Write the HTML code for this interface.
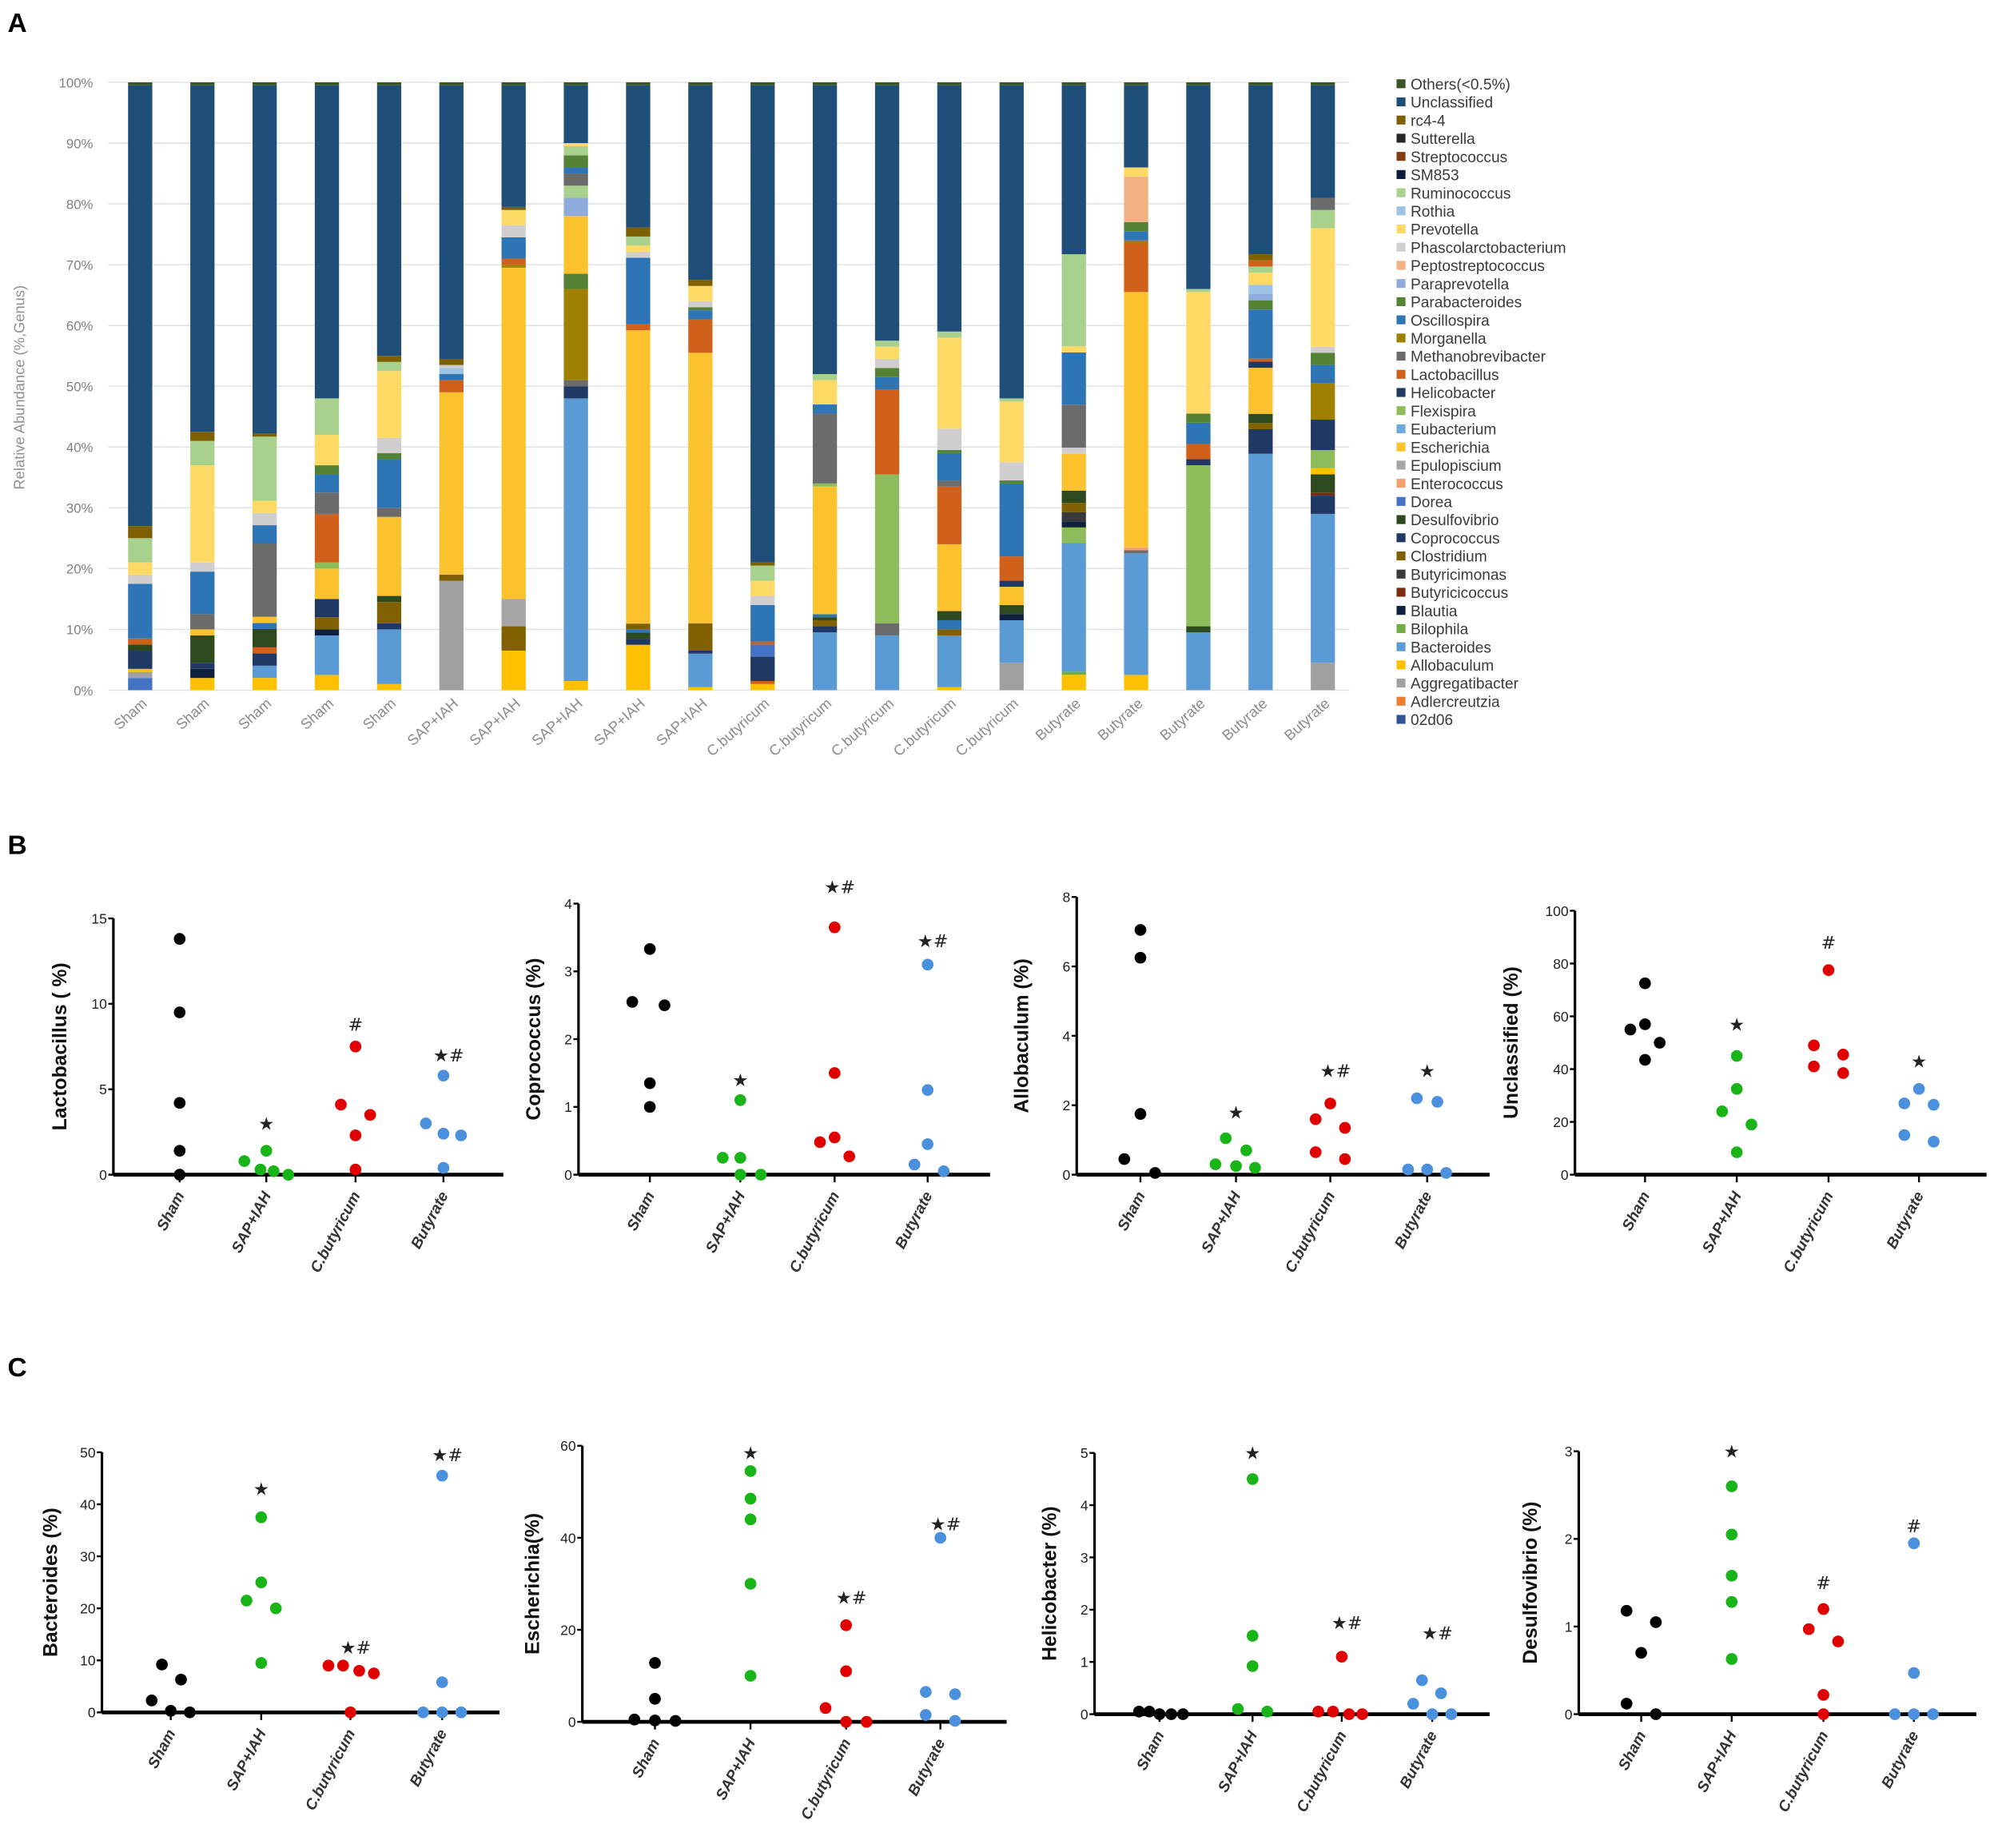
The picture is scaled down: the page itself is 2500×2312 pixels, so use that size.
<!DOCTYPE html>
<html><head><meta charset="utf-8"><style>
html,body{margin:0;padding:0;background:#fff;}
svg{display:block;font-family:"Liberation Sans",Arial,sans-serif;}
</style></head><body>
<svg id="fig" width="2500" height="2312" viewBox="0 0 1568 1450" preserveAspectRatio="none" xmlns="http://www.w3.org/2000/svg">
<text x="6" y="25" font-size="21" font-weight="bold">A</text>
<text x="6" y="670" font-size="21" font-weight="bold">B</text>
<text x="6" y="1080" font-size="21" font-weight="bold">C</text>
</svg>
<script>
// ---------- Panel A data ----------
const barLabels = ["Sham","Sham","Sham","Sham","Sham","SAP+IAH","SAP+IAH","SAP+IAH","SAP+IAH","SAP+IAH","C.butyricum","C.butyricum","C.butyricum","C.butyricum","C.butyricum","Butyrate","Butyrate","Butyrate","Butyrate","Butyrate"];
const taxa = ["Others(<0.5%)","Unclassified","rc4-4","Sutterella","Streptococcus","SM853","Ruminococcus","Rothia","Prevotella","Phascolarctobacterium","Peptostreptococcus","Paraprevotella","Parabacteroides","Oscillospira","Morganella","Methanobrevibacter","Lactobacillus","Helicobacter","Flexispira","Eubacterium","Escherichia","Epulopiscium","Enterococcus","Dorea","Desulfovibrio","Coprococcus","Clostridium","Butyricimonas","Butyricicoccus","Blautia","Bilophila","Bacteroides","Allobaculum","Aggregatibacter","Adlercreutzia","02d06"];
const taxaColors = ["#375623","#1f4e79","#7f6000","#262626","#843c0c","#0d1b3e","#a9d18e","#9dc3e6","#ffd966","#d0cece","#f4b183","#8faadc","#548235","#2e75b6","#a08000","#6b6b6b","#d0601a","#203864","#8fbc5a","#6fa8dc","#fcc22e","#a5a5a5","#f4a070","#4472c4","#2d4a1e","#1f3864","#806000","#3a3a3a","#7b2c0a","#10213f","#70ad47","#5b9bd5","#ffc000","#a0a0a0","#ed7d31","#2f5597"];
const bar00 = [["Dorea",2],["Aggregatibacter",1],["Allobaculum",0.5],["Coprococcus",3],["Desulfovibrio",1],["Lactobacillus",1],["Oscillospira",9],["Phascolarctobacterium",1.5],["Prevotella",2],["Ruminococcus",4],["rc4-4",2],["Unclassified",72.5],["Others(<0.5%)",0.5]];
const bar01 = [["Allobaculum",2],["Blautia",1.5],["Coprococcus",1],["Desulfovibrio",4.5],["Escherichia",1],["Methanobrevibacter",2.5],["Oscillospira",7],["Phascolarctobacterium",1.5],["Prevotella",16],["Ruminococcus",4],["rc4-4",1.5],["Unclassified",57],["Others(<0.5%)",0.5]];
const bar02 = [["Allobaculum",2],["Bacteroides",2],["Coprococcus",2],["Lactobacillus",1],["Desulfovibrio",3],["Oscillospira",1],["Escherichia",1],["Methanobrevibacter",12],["Oscillospira",3],["Phascolarctobacterium",2],["Prevotella",2],["Ruminococcus",10.5],["rc4-4",0.5],["Unclassified",57],["Others(<0.5%)",0.5]];
const bar03 = [["Allobaculum",2.5],["Bacteroides",6.5],["Blautia",1],["Clostridium",2],["Coprococcus",3],["Escherichia",5],["Flexispira",1],["Lactobacillus",8],["Methanobrevibacter",3.5],["Oscillospira",3],["Parabacteroides",1.5],["Prevotella",5],["Ruminococcus",6],["Unclassified",51.5],["Others(<0.5%)",0.5]];
const bar04 = [["Allobaculum",1],["Bacteroides",9],["Coprococcus",1],["Clostridium",3.5],["Desulfovibrio",1],["Escherichia",13],["Methanobrevibacter",1.5],["Oscillospira",8],["Parabacteroides",1],["Phascolarctobacterium",2.5],["Prevotella",11],["Ruminococcus",1.5],["rc4-4",1],["Unclassified",44.5],["Others(<0.5%)",0.5]];
const bar05 = [["Aggregatibacter",18],["Clostridium",1],["Escherichia",30],["Lactobacillus",2],["Oscillospira",1],["Rothia",1],["Phascolarctobacterium",0.5],["rc4-4",1],["Unclassified",45],["Others(<0.5%)",0.5]];
const bar06 = [["Allobaculum",6.5],["Clostridium",4],["Epulopiscium",4.5],["Escherichia",54.5],["Morganella",0.5],["Lactobacillus",1],["Oscillospira",3.5],["Phascolarctobacterium",2],["Prevotella",2.5],["rc4-4",0.5],["Unclassified",20],["Others(<0.5%)",0.5]];
const bar07 = [["Allobaculum",1.5],["Bacteroides",46.5],["Helicobacter",2],["Methanobrevibacter",1],["Morganella",15],["Parabacteroides",2.5],["Escherichia",9.5],["Paraprevotella",3],["Ruminococcus",2],["Methanobrevibacter",2],["Oscillospira",1],["Parabacteroides",2],["Ruminococcus",1.5],["Prevotella",0.5],["Unclassified",9.5],["Others(<0.5%)",0.5]];
const bar08 = [["Allobaculum",7.5],["Coprococcus",1],["Desulfovibrio",1],["Oscillospira",0.5],["Clostridium",1],["Escherichia",48.5],["Lactobacillus",1],["Oscillospira",11],["Phascolarctobacterium",1],["Prevotella",1],["Ruminococcus",1.5],["rc4-4",1.5],["Unclassified",23.5],["Others(<0.5%)",0.5]];
const bar09 = [["Allobaculum",0.5],["Bacteroides",5.5],["Coprococcus",0.5],["Clostridium",4.5],["Escherichia",44.5],["Lactobacillus",5.5],["Oscillospira",1.5],["Parabacteroides",0.5],["Phascolarctobacterium",1],["Prevotella",2.5],["rc4-4",1],["Unclassified",32],["Others(<0.5%)",0.5]];
const bar10 = [["Allobaculum",1],["Lactobacillus",0.5],["Coprococcus",4],["Dorea",2],["Lactobacillus",0.5],["Oscillospira",6],["Phascolarctobacterium",1.5],["Prevotella",2.5],["Ruminococcus",2.5],["rc4-4",0.5],["Unclassified",78.5],["Others(<0.5%)",0.5]];
const bar11 = [["Bacteroides",9.5],["Coprococcus",1],["Clostridium",1],["Desulfovibrio",0.5],["Oscillospira",0.5],["Escherichia",21],["Flexispira",0.5],["Methanobrevibacter",11.5],["Oscillospira",1.5],["Prevotella",4],["Ruminococcus",1],["Unclassified",47.5],["Others(<0.5%)",0.5]];
const bar12 = [["Bacteroides",9],["Methanobrevibacter",2],["Flexispira",24.5],["Lactobacillus",14],["Oscillospira",2],["Parabacteroides",1.5],["Phascolarctobacterium",1.5],["Prevotella",2],["Ruminococcus",1],["Unclassified",42],["Others(<0.5%)",0.5]];
const bar13 = [["Allobaculum",0.5],["Bacteroides",8.5],["Clostridium",1],["Oscillospira",1.5],["Desulfovibrio",1.5],["Escherichia",11],["Lactobacillus",9.5],["Methanobrevibacter",1],["Oscillospira",4.5],["Parabacteroides",0.5],["Phascolarctobacterium",3.5],["Prevotella",15],["Ruminococcus",1],["Unclassified",40.5],["Others(<0.5%)",0.5]];
const bar14 = [["Aggregatibacter",4.5],["Bacteroides",7],["Blautia",1],["Desulfovibrio",1.5],["Escherichia",3],["Coprococcus",1],["Lactobacillus",4],["Oscillospira",12],["Parabacteroides",0.5],["Phascolarctobacterium",3],["Prevotella",10],["Ruminococcus",0.5],["Unclassified",51.5],["Others(<0.5%)",0.5]];
const bar15 = [["Allobaculum",2.5],["Bilophila",0.5],["Bacteroides",21],["Flexispira",2.5],["Blautia",1],["Butyricimonas",1.5],["Clostridium",1.5],["Desulfovibrio",2],["Escherichia",6],["Phascolarctobacterium",1],["Methanobrevibacter",7],["Oscillospira",8.5],["Prevotella",1],["Ruminococcus",15],["Unclassified",27.5],["Others(<0.5%)",0.5]];
const bar16 = [["Allobaculum",2.5],["Bacteroides",20],["Methanobrevibacter",0.5],["Enterococcus",0.5],["Escherichia",42],["Lactobacillus",8],["Morganella",0.5],["Oscillospira",1.5],["Parabacteroides",1.5],["Peptostreptococcus",7.5],["Prevotella",1.5],["Unclassified",13.5],["Others(<0.5%)",0.5]];
const bar17 = [["Bacteroides",9.5],["Desulfovibrio",1],["Flexispira",26.5],["Helicobacter",1],["Lactobacillus",2.5],["Oscillospira",3.5],["Parabacteroides",1.5],["Prevotella",20],["Ruminococcus",0.5],["Unclassified",33.5],["Others(<0.5%)",0.5]];
const bar18 = [["Bacteroides",38.5],["Coprococcus",4],["Clostridium",1],["Desulfovibrio",1.5],["Escherichia",7.5],["Helicobacter",1],["Lactobacillus",0.5],["Oscillospira",8],["Parabacteroides",1.5],["Paraprevotella",1],["Rothia",1.5],["Prevotella",2],["Ruminococcus",1],["Lactobacillus",1],["rc4-4",1],["Unclassified",27.5],["Others(<0.5%)",0.5]];
const bar19 = [["Aggregatibacter",4.5],["Bacteroides",24.5],["Coprococcus",3],["Butyricicoccus",0.5],["Desulfovibrio",3],["Allobaculum",1],["Flexispira",3],["Helicobacter",5],["Morganella",6],["Oscillospira",3],["Parabacteroides",2],["Phascolarctobacterium",1],["Prevotella",19.5],["Ruminococcus",3],["Methanobrevibacter",2],["Unclassified",18.5],["Others(<0.5%)",0.5]];
const barStacks = [bar00,bar01,bar02,bar03,bar04,bar05,bar06,bar07,bar08,bar09,bar10,bar11,bar12,bar13,bar14,bar15,bar16,bar17,bar18,bar19];
const pctTicks = [0,10,20,30,40,50,60,70,80,90,100];

// ---------- Panels B & C data ----------
const groups = ["Sham","SAP+IAH","C.butyricum","Butyrate"];
const groupColors = ["#000000","#18b418","#e00000","#4a90dc"];
const lacVals = [[13.8,9.5,4.2,1.4,0],[0.8,1.4,0.3,0.2,0],[4.1,7.5,3.5,2.3,0.3],[3.0,5.8,2.4,2.3,0.4]];
const lacJit = [[0,0,0,0,0],[-1.5,0,-0.4,0.5,1.5],[-1,0,1,0,0],[-1.2,0,0,1.2,0]];
const lacMarks = [["",0],["★",3.0],["#",8.8],["★#",7.0]];
const lacTicks = [0,5,10,15];
const copVals = [[2.55,3.33,2.5,1.35,1.0],[0.25,1.1,0.25,0,0],[0.48,3.65,1.5,0.55,0.27],[0.15,3.1,1.25,0.45,0.05]];
const copJit = [[-1.2,0,1,0,0],[-1.2,0,0,0,1.4],[-1,0,0,0,1],[-0.9,0,0,0,1.1]];
const copMarks = [["",0],["★",1.4],["★#",4.25],["★#",3.45]];
const copTicks = [0,1,2,3,4];
const allVals = [[0.45,7.05,6.25,1.75,0.05],[0.3,1.05,0.25,0.7,0.2],[1.6,0.65,2.05,1.35,0.45],[0.15,2.2,0.15,2.1,0.05]];
const allJit = [[-1.1,0,0,0,1],[-1.4,-0.7,0,0.7,1.3],[-1,-1,0,1,1],[-1.3,-0.7,0,0.7,1.3]];
const allMarks = [["",0],["★",1.8],["★#",3.0],["★",3.0]];
const allTicks = [0,2,4,6,8];
const uncVals = [[55,72.5,57,43.5,50],[24,45,32.5,8.5,19],[49,41,77.5,45.5,38.5],[27,15,32.5,26.5,12.5]];
const uncJit = [[-1,0,0,0,1],[-1,0,0,0,1],[-1,-1,0,1,1],[-1,-1,0,1,1]];
const uncMarks = [["",0],["★",57],["#",88],["★",43]];
const uncTicks = [0,20,40,60,80,100];
const bacVals = [[2.3,9.2,0.3,6.3,0],[21.5,37.5,25,9.5,20],[9,9,0,8,7.5],[0,45.5,5.8,0,0]];
const bacJit = [[-1.3,-0.6,0,0.7,1.3],[-1,0,0,0,1],[-1.5,-0.5,0,0.6,1.6],[-1.3,0,0,0,1.3]];
const bacMarks = [["",0],["★",43],["★#",12.5],["★#",49.5]];
const bacTicks = [0,10,20,30,40,50];
const escVals = [[0.5,12.8,5,0.3,0.2],[54.5,48.5,44,30,10],[3,21,11,0,0],[6.5,1.5,40,6,0.2]];
const escJit = [[-1.4,0,0,0,1.4],[0,0,0,0,0],[-1.4,0,0,0,1.4],[-1,-1,0,1,1]];
const escMarks = [["",0],["★",58.5],["★#",27],["★#",43]];
const escTicks = [0,20,40,60];
const helVals = [[0.05,0.05,0,0,0],[0.1,4.5,1.5,0.92,0.05],[0.05,0.05,1.1,0,0],[0.2,0.65,0,0.4,0]];
const helJit = [[-1.4,-0.7,0,0.8,1.6],[-1,0,0,0,1],[-1.6,-0.6,0,0.5,1.4],[-1.3,-0.7,0,0.6,1.3]];
const helMarks = [["",0],["★",5.0],["★#",1.75],["★#",1.55]];
const helTicks = [0,1,2,3,4,5];
const desVals = [[0.12,1.18,0.7,1.05,0],[2.6,2.05,1.58,1.28,0.63],[0.97,1.2,0.22,0,0.83],[0,1.95,0.47,0,0]];
const desJit = [[-1,-1,0,1,1],[0,0,0,0,0],[-1,0,0,0,1],[-1.3,0,0,0,1.3]];
const desMarks = [["",0],["★",3.0],["#",1.5],["#",2.15]];
const desTicks = [0,1,2,3];

const NS = "http://www.w3.org/2000/svg";
const svg = document.getElementById("fig");
function mk(tag, attrs, parent){
  const e = document.createElementNS(NS, tag);
  for (const k in attrs) e.setAttribute(k, attrs[k]);
  (parent || svg).appendChild(e);
  return e;
}

// ---------- Panel A ----------
(function(){
  const g = mk("g", {});
  
  
  const x0 = 85, x1 = 1059, yTop = 64.6, yBot = 541.5;
  const yScale = v => yBot - (v/100)*(yBot-yTop);
  const xCenter = i => 110 + i*48.85;
  const bw = 19;
  pctTicks.forEach(t => {
    const ln = mk("line", {x1:x0, x2:x1, y1:yScale(t), y2:yScale(t), stroke:"#e2e2e2", "stroke-width":1}, g);
    
    
    const tx = mk("text", {x:73, y:yScale(t)+4, "text-anchor":"end", "font-size":10.5, fill:"#808080"}, g);
    tx.textContent = t + "%";
    
    
  });
  const yt = mk("text", {x:0, y:0, transform:"translate(19,304) rotate(-90)", "text-anchor":"middle", "font-size":11.5, fill:"#909090"}, g);
  yt.textContent = "Relative Abundance (%,Genus)";
  
  
  barStacks.forEach((stack, i) => {
    const total = stack.reduce((s, p) => s + p[1], 0);
    let cum = 0;
    const bg = mk("g", {}, g);
    
    
    stack.forEach(([name, v]) => {
      const yA = yScale(cum/total*100), yB = yScale((cum+v)/total*100);
      const r = mk("rect", {x:xCenter(i)-bw/2, y:yB, width:bw, height:Math.max(0, yA-yB), fill:taxaColors[taxa.indexOf(name)]}, bg);
      
      
      cum += v;
    });
    const lx = xCenter(i)+6, ly = 553;
    const lt = mk("text", {x:lx, y:ly, transform:`rotate(-42 ${lx} ${ly})`, "text-anchor":"end", "font-size":11.5, fill:"#8a8a8a"}, g);
    lt.textContent = barLabels[i];
    
    
  });
  const lg = mk("g", {}, g);
  
  
  taxa.forEach((t, k) => {
    const y = 65.7 + k*14.25;
    const sq = mk("rect", {x:1096, y:y-3.5, width:7, height:7, fill:taxaColors[k]}, lg);
    
    
    const tx = mk("text", {x:1107, y:y+4.5, "font-size":12, fill:"#3a3a3a"}, lg);
    tx.textContent = t;
    
    
  });
})();

// ---------- Dot plots ----------
function dotPlot(cfg, vals, jit, marks, ticks){
  const g = mk("g", {});
  
  
  const max = ticks[ticks.length-1];
  const ys = v => cfg.y0 - (v/max)*(cfg.y0-cfg.yTop);
  const ax = mk("line", {x1:cfg.ax, x2:cfg.ax, y1:cfg.yTop, y2:cfg.y0, stroke:"#000", "stroke-width":2}, g);
  
  
  const xa = mk("line", {x1:cfg.ax, x2:cfg.xEnd, y1:cfg.y0, y2:cfg.y0, stroke:"#000", "stroke-width":3}, g);
  
  
  ticks.forEach(t => {
    const tk = mk("line", {x1:cfg.ax-4, x2:cfg.ax, y1:ys(t), y2:ys(t), stroke:"#000", "stroke-width":1.5}, g);
    
    
    const tx = mk("text", {x:cfg.ax-5, y:ys(t)+4, "text-anchor":"end", "font-size":11, fill:"#222"}, g);
    tx.textContent = t;
    
    
  });
  const yt = mk("text", {x:0, y:0, transform:`translate(${cfg.lx},${(cfg.yTop+cfg.y0)/2}) rotate(-90)`, "text-anchor":"middle", "font-size":15.5, "font-weight":"bold", fill:"#111"}, g);
  yt.textContent = cfg.title;
  
  
  groups.forEach((gn, gi) => {
    const cx = cfg.centers[gi];
    const tk = mk("line", {x1:cx, x2:cx, y1:cfg.y0, y2:cfg.y0+6, stroke:"#000", "stroke-width":1.5}, g);
    
    
    const lx = cx+4, ly = cfg.y0+16;
    const lt = mk("text", {x:lx, y:ly, transform:`rotate(-62 ${lx} ${ly})`, "text-anchor":"end", "font-size":12, "font-weight":"bold", "font-style":"italic", fill:"#333"}, g);
    lt.textContent = gn;
    
    
    vals[gi].forEach((v, k) => {
      const c = mk("circle", {cx:cx + jit[gi][k]*11.5, cy:ys(v), r:4.6, fill:groupColors[gi]}, g);
      
      
    });
    const [m, mv] = marks[gi];
    if (m) {
      const mt = mk("text", {x:cx+(m.length>1?4:0), y:ys(mv)+5, "text-anchor":"middle", "font-size":14, fill:"#222", "font-family":"DejaVu Sans, sans-serif"}, g);
      mt.textContent = m;
      
      
    }
  });
}
dotPlot({name:"lactobacillus-plot", title:"Lactobacillus ( %)", ax:89, xEnd:395, yTop:720.6, y0:921.7, lx:52, centers:[141,209,279,348]}, lacVals, lacJit, lacMarks, lacTicks);
dotPlot({name:"coprococcus-plot", title:"Coprococcus (%)", ax:454, xEnd:777, yTop:709, y0:921.7, lx:424, centers:[510,581,655,728]}, copVals, copJit, copMarks, copTicks);
dotPlot({name:"allobaculum-plot", title:"Allobaculum (%)", ax:845, xEnd:1169, yTop:703.8, y0:921.7, lx:807, centers:[895,970,1044,1120]}, allVals, allJit, allMarks, allTicks);
dotPlot({name:"unclassified-plot", title:"Unclassified (%)", ax:1236, xEnd:1559, yTop:714.6, y0:921.7, lx:1191, centers:[1291,1363,1435,1506]}, uncVals, uncJit, uncMarks, uncTicks);
dotPlot({name:"bacteroides-plot", title:"Bacteroides (%)", ax:80, xEnd:392, yTop:1139.5, y0:1343.6, lx:45, centers:[134,205,275,347]}, bacVals, bacJit, bacMarks, bacTicks);
dotPlot({name:"escherichia-plot", title:"Escherichia(%)", ax:457, xEnd:790, yTop:1134.4, y0:1351, lx:423, centers:[514,589,664,738]}, escVals, escJit, escMarks, escTicks);
dotPlot({name:"helicobacter-plot", title:"Helicobacter (%)", ax:859, xEnd:1169, yTop:1140, y0:1345, lx:829, centers:[910,983,1053,1124]}, helVals, helJit, helMarks, helTicks);
dotPlot({name:"desulfovibrio-plot", title:"Desulfovibrio (%)", ax:1239, xEnd:1551, yTop:1138.7, y0:1345, lx:1206, centers:[1288,1359,1431,1502]}, desVals, desJit, desMarks, desTicks);
</script>
</body></html>
